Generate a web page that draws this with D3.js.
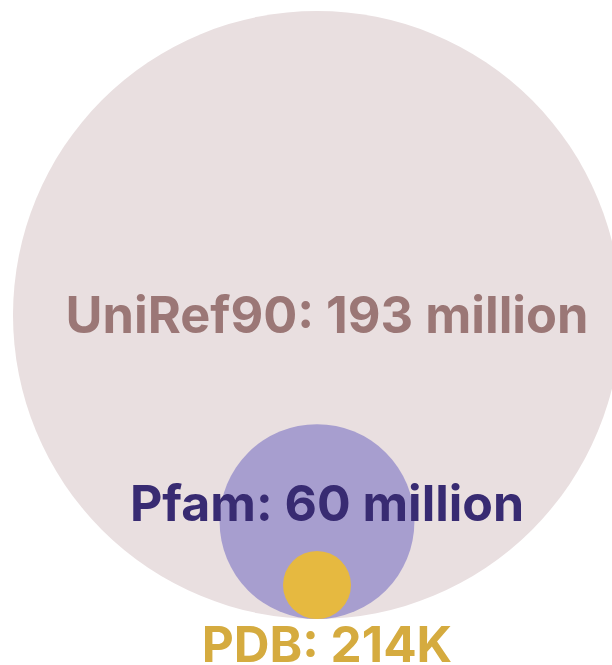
<!DOCTYPE html>
<html>
<head>
<meta charset="utf-8">
<script src="https://cdn.jsdelivr.net/npm/d3@7"></script>
<style>
  html, body { margin: 0; padding: 0; background: #ffffff; }
  svg { display: block; }
</style>
</head>
<body>
<svg id="chart" width="612" height="665"></svg>
<script>
// Protein sequence / structure database sizes
const names   = ["UniRef90", "Pfam", "PDB"];
const values  = [193e6, 60e6, 214e3];
const labels  = ["UniRef90: 193 million", "Pfam: 60 million", "PDB: 214K"];
const fills   = ["#e9dfe0", "#a79ecf", "#e6b940"];
const inks    = ["#9b7776", "#382b72", "#d5ab3f"];
const labelY  = [333, 521, 662];
const labelSize = [50.5, 50, 49.5];

const svg = d3.select("#chart");
const cx = 317, baseY = 619;

// radius grows with count; tiny sets keep a visible minimum size
const r = d3.scalePow().exponent(0.974).domain([0, d3.max(values)]).range([0, 304]);
const minR = 34;
const radius = v => Math.max(r(v), minR);

svg.append("g")
  .selectAll("circle")
  .data(values)
  .join("circle")
  .attr("cx", cx)
  .attr("cy", v => baseY - radius(v))
  .attr("r", v => radius(v))
  .attr("fill", (v, i) => fills[i]);

svg.append("g")
  .selectAll("text")
  .data(labels)
  .join("text")
  .attr("x", 327)
  .attr("y", (d, i) => labelY[i])
  .attr("text-anchor", "middle")
  .attr("font-family", "Inter, 'Open Sans', sans-serif")
  .attr("font-weight", 700)
  .attr("font-size", (d, i) => labelSize[i])
  .attr("fill", (d, i) => inks[i])
  .text(d => d);
</script>
</body>
</html>
